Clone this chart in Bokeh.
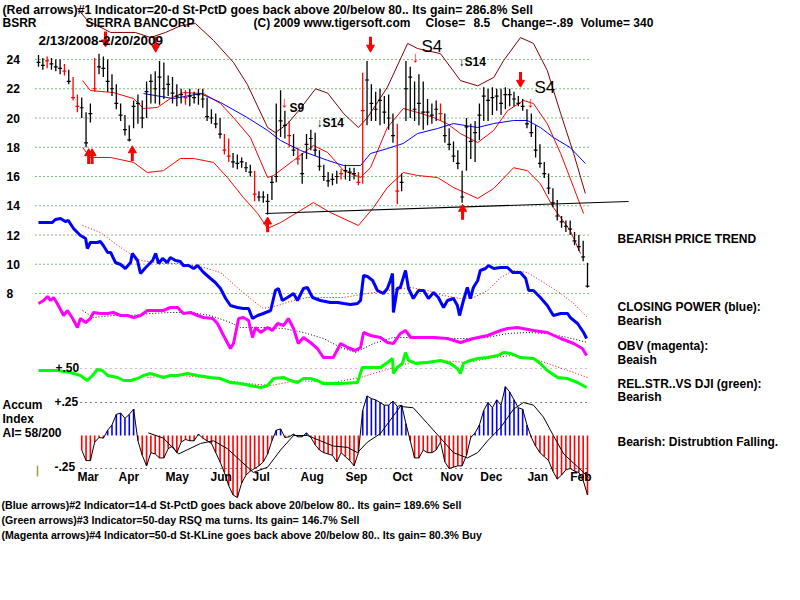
from bokeh.plotting import figure
from bokeh.models import Range1d
from bokeh.core.properties import value
from bokeh.embed import file_html
from bokeh.resources import INLINE

# ---------------- data ----------------
bar_high = [24.3,24.1,24.2,24.1,24.0,24.0,23.7,23.3,22.8,21.6,
            21.4,20.4,21.0,24.1,24.4,24.2,24.0,23.0,22.3,21.0,
            20.2,19.5,21.2,21.6,21.2,22.5,23.0,23.2,23.9,23.8,
            22.9,22.8,22.3,22.0,21.9,22.0,21.8,22.0,22.0,21.4,
            20.6,20.3,20.0,18.9,18.6,17.6,17.5,17.3,17.0,16.8,
            16.4,15.0,15.0,14.8,16.0,21.0,21.9,20.5,19.8,18.9,
            18.0,17.6,18.9,19.2,19.0,17.8,16.8,16.3,16.2,16.4,
            16.5,16.8,16.6,16.6,16.3,23.1,23.9,22.3,21.8,22.0,
            21.5,21.6,20.3,19.6,16.2,23.9,23.5,22.5,23.0,22.5,
            21.3,21.0,21.2,21.0,20.3,19.3,18.4,17.8,16.4,20.0,
            19.6,19.8,21.0,22.1,22.0,22.1,22.0,22.0,22.1,22.0,
            21.8,21.5,21.3,20.6,20.3,19.5,18.2,17.0,16.2,15.2,
            14.4,13.3,13.0,13.0,12.2,12.0,11.6,10.1]
bar_low = [23.5,23.3,23.4,23.3,23.2,23.0,22.9,22.3,21.2,20.4,
           20.0,18.0,19.7,21.8,23.0,22.8,21.8,21.5,20.6,19.8,
           18.8,18.4,19.3,19.6,19.3,20.0,21.0,21.0,20.9,21.3,
           21.5,21.0,20.8,21.0,20.9,20.8,21.0,20.9,20.7,19.8,
           19.6,19.3,18.6,17.5,17.0,16.6,16.5,16.6,16.3,16.0,
           14.3,14.3,14.2,13.4,14.4,15.6,18.7,18.6,18.0,17.4,
           16.8,15.5,17.2,17.8,17.4,16.4,15.7,15.3,15.4,15.5,
           15.8,15.8,15.7,15.8,15.4,15.5,19.5,19.8,19.8,19.5,
           19.6,19.2,18.3,14.1,15.0,19.8,20.0,19.8,19.5,19.2,
           19.5,19.6,19.8,19.8,18.3,17.8,17.0,16.5,14.2,16.4,
           17.2,17.0,18.5,19.8,19.8,20.2,20.5,20.2,20.6,20.8,
           20.8,20.8,20.5,19.3,18.7,17.3,16.6,15.9,14.8,13.9,
           13.0,12.5,12.2,12.0,11.3,10.9,10.2,8.4]
bar_close = [23.8,23.6,23.9,23.7,23.5,23.4,23.2,22.5,21.4,20.8,
             20.7,18.3,20.3,22.0,23.5,23.4,22.5,22.0,21.0,20.2,
             19.2,18.5,20.8,21.0,20.0,21.8,22.5,22.0,22.8,22.0,
             22.3,21.7,21.5,21.6,21.4,21.5,21.4,21.6,21.3,20.1,
             20.0,19.6,18.9,17.8,17.4,17.0,16.9,17.0,16.6,16.3,
             14.8,14.6,14.6,14.3,15.6,16.0,19.8,19.5,18.8,17.8,
             17.2,16.2,18.2,18.6,17.8,16.7,16.0,15.7,15.8,16.0,
             16.2,16.4,16.3,16.2,15.6,20.5,22.6,21.0,20.6,21.2,
             20.4,20.0,18.8,15.0,15.6,22.0,22.8,20.6,21.0,20.4,
             20.4,20.2,20.6,20.3,18.8,18.2,17.4,16.9,14.6,19.4,
             18.4,19.0,20.2,21.5,21.2,21.4,21.5,21.0,21.6,21.6,
             21.3,21.0,20.8,19.6,19.0,17.8,16.9,16.2,15.2,14.2,
             13.3,12.9,12.6,12.4,11.6,11.2,10.5,8.5]
red_bars = [2, 6, 8, 9, 13, 34, 43, 44, 50, 58, 60, 70, 74, 75, 83, 93]

outer_idx = [9.0,11.3,16.7,22.4,25.9,29.4,32.8,36.3,40.5,45.1,48.3,53.0,54.8,57.6,60.6,64.1,66.9,
             70.6,74.0,76.1,80.7,85.4,87.7,93.0,97.6,101.6,105.3,107.6,111.5,114.5,117.7,120.8,123.8,126.5]
outer_val = [27.5,26.67,25.85,25.85,25.5,25.85,26.3,26.46,25.3,23.8,22.3,19.35,19.0,19.6,20.65,22.0,21.7,
             20.3,19.35,20.03,22.1,25.1,24.75,24.4,22.56,22.2,22.77,23.93,25.5,25.1,23.25,20.3,17.57,14.84]
upper_idx = [10.2,12.0,17.3,22.0,24.3,27.5,30.5,33.5,38.2,42.1,45.1,49.0,53.0,54.4,59.0,63.6,66.9,70.6,
             74.5,76.8,80.7,84.4,87.7,91.4,94.6,97.6,101.6,105.3,108.5,112.2,114.5,117.7,120.8,123.8,126.1]
upper_val = [22.56,21.88,21.74,21.33,20.65,20.72,21.33,21.74,21.67,20.99,20.03,18.67,15.93,16.07,17.1,18.12,
             17.64,16.4,15.93,16.6,19.35,20.65,20.38,20.03,19.6,18.94,18.32,19.15,20.5,21.2,20.99,19.6,17.57,15.25,13.47]
lower_idx = [10.2,12.0,16.7,22.0,25.2,28.9,32.8,35.9,40.5,43.7,47.4,50.7,53.0,56.0,60.6,63.6,67.5,74.0,
             77.5,80.7,84.4,87.7,92.3,96.0,101.6,105.3,109.9,113.1,116.1,119.1,123.0,125.4]
lower_val = [17.98,17.3,17.3,16.96,16.27,16.4,17.23,17.23,16.96,15.93,14.56,13.47,12.44,12.85,13.67,14.22,
             13.54,12.65,13.88,15.25,16.27,16.07,15.93,15.25,14.5,15.18,16.6,16.4,15.5,13.88,12.3,10.73]
ma_idx = [24.3,31.2,37.5,42.1,48.3,53.0,56.0,60.6,66.9,70.6,74.5,76.8,80.7,84.4,87.7,92.3,96.0,101.6,
          105.3,109.9,113.1,116.1,119.1,123.0,126.5]
ma_val = [21.67,21.33,21.67,21.06,20.03,19.15,18.46,17.78,17.1,16.75,16.75,17.57,17.91,18.26,18.94,19.28,
          19.62,19.35,19.62,19.83,19.83,19.35,18.67,17.98,16.89]
support_idx = [52.5, 136.5]
support_val = [13.47, 14.29]

sell_idx = [15.5, 27.1, 76.8, 111.5]
sell_tip = [24.96, 24.6, 24.6, 22.2]
buy_idx = [11.6, 12.4, 21.7, 53.0, 98.1]
buy_tip = [17.8, 17.8, 18.0, 13.13, 14.0]

cp_idx = [0,3.2,3.9,5.1,6.2,6.9,8.1,9.7,10.9,11.3,12.0,13.6,14.3,15.0,16.0,16.7,17.8,19.0,20.1,21.3,
          21.7,22.9,23.6,24.8,26.4,27.1,27.8,28.7,29.8,30.5,31.7,32.8,33.5,34.7,35.9,36.8,38.2,39.8,40.9,42.1,
          43.3,44.4,46.0,47.4,48.6,49.5,50.7,52.0,53.7,54.8,55.5,56.4,57.6,59.0,59.9,61.3,62.2,63.4,65.2,67.5,
          69.2,70.6,72.2,73.8,74.5,75.2,76.1,77.3,78.4,79.8,80.7,81.4,81.9,82.1,83.0,83.7,84.9,85.6,86.7,87.9,
          89.1,90.2,91.4,92.5,93.7,94.6,96.0,96.9,97.4,98.3,99.2,99.9,100.6,101.6,102.2,103.4,104.1,105.3,106.9,108.5,
          109.7,111.5,112.7,113.4,114.5,116.1,117.7,119.1,120.8,122.4,123.0,124.7,126.1,126.8]
cp_val = [98,98,101,102,99,100,92,85,82,72,78,78,79,75,68,68,58,56,52,58,
          67,60,47,53,60,67,57,62,58,63,60,59,55,55,52,55,48,42,38,32,
          22,15,13,12,12,2,5,7,10,30,32,20,23,27,20,32,33,23,20,18,
          18,17,16,17,20,45,44,40,30,27,32,40,47,8,32,33,50,32,22,30,
          30,22,28,23,13,20,22,15,5,20,33,22,33,40,50,52,55,52,53,53,
          48,48,42,30,30,23,15,5,7,7,3,-3,-12,-18]
cpma_idx = [10.2,14.3,19.0,23.6,28.9,32.8,38.2,42.1,46.0,49.0,52.0,55.3,59.0,62.2,65.2,70.6,76.1,80.7,86.1,
            90.0,93.7,97.6,100.6,103.9,106.9,109.9,113.1,116.1,120.8,123.8,127.0]
cpma_val = [95,88,73,60,57,57,53,48,33,22,12,15,20,23,23,23,27,30,33,30,25,22,23,30,43,50,48,40,27,17,3]

obv_idx = [0,1.2,2.1,2.8,3.5,4.6,5.8,6.7,7.9,9.0,9.7,10.9,12.0,12.7,14.3,16.0,17.3,19.0,20.6,22.0,
           23.6,25.2,26.6,28.9,30.5,32.2,33.5,35.2,36.8,38.2,40.3,41.4,42.8,44.4,45.1,46.3,47.4,48.6,49.5,50.2,
           51.4,53.0,54.1,55.3,56.7,57.8,59.0,60.1,61.3,62.9,64.5,65.9,68.2,69.9,71.5,73.3,74.5,75.2,76.8,79.1,
           80.7,82.1,83.7,84.9,86.1,88.4,91.4,94.6,97.6,100.6,103.9,106.9,108.5,110.8,114.5,117.7,120.8,123.8,125.8,126.8]
obv_val = [77,80,84,80,83,75,65,70,62,53,62,58,62,68,67,67,68,65,65,63,
           65,70,70,70,73,73,67,68,65,63,62,57,45,32,37,62,63,60,43,53,
           48,53,50,57,55,62,52,37,43,38,32,23,23,37,33,30,33,48,45,43,
           38,37,47,50,43,43,43,42,38,42,45,50,52,53,50,48,42,37,32,25]
obvma_idx = [10.2,12.7,17.3,21.3,25.9,30.5,35.2,39.8,44.4,46.7,52.0,56.7,61.3,65.9,69.9,73.3,77.5,82.1,
             87.7,93.7,99.2,103.9,108.5,113.1,117.7,122.4,127.0]
obvma_val = [70,63,65,65,67,68,68,65,58,53,53,52,48,42,33,28,37,43,43,42,42,43,47,48,47,43,38]

rs_idx = [0,4.4,7.4,9.7,11.3,12.5,13.6,14.8,16.0,18.3,19.7,21.3,22.9,24.3,25.9,27.5,28.9,30.5,32.2,34.5,
          36.8,39.8,42.1,44.4,46.7,49.0,51.4,53.0,54.4,56.7,58.3,59.9,61.3,62.9,64.5,65.9,67.5,69.9,73.8,74.9,
          76.8,79.1,80.7,81.9,82.1,83.0,84.2,84.9,85.6,87.2,90.0,93.0,95.3,96.9,97.6,98.3,99.9,101.6,103.9,106.2,
          107.6,109.2,111.5,114.5,116.1,117.7,120.1,122.4,124.7,126.8]
rs_val = [.485,.485,.47,.447,.409,.447,.492,.485,.447,.432,.409,.409,.424,.447,.462,.447,.432,.447,.447,.462,
          .447,.432,.424,.394,.386,.371,.356,.371,.424,.432,.409,.394,.424,.424,.409,.386,.386,.386,.394,.508,
          .508,.508,.545,.576,.462,.508,.538,.621,.561,.538,.545,.561,.538,.5,.462,.538,.561,.576,.583,.598,
          .621,.614,.583,.576,.538,.485,.432,.424,.394,.356]
rsma_idx = [25.2,32.8,40.5,48.3,53.7,59.9,68.2,74.5,79.8,86.1,93.0,99.2,105.3,109.2,114.5,119.1,123.8,127.0]
rsma_val = [.432,.447,.424,.386,.371,.409,.394,.432,.485,.545,.561,.545,.583,.598,.576,.523,.47,.432]

ai_start = 10
ai_val = [-0.11,-0.19,-0.19,-0.05,-0.015,-0.02,0.04,0.08,0.16,0.17,
          0.13,0.16,0.20,-0.04,-0.15,-0.23,-0.13,-0.14,-0.17,-0.17,
          -0.10,-0.08,-0.13,-0.05,-0.03,-0.04,-0.04,0.01,-0.02,-0.04,
          -0.06,-0.13,-0.20,-0.28,-0.38,-0.45,-0.47,-0.36,-0.30,-0.27,
          -0.25,-0.23,-0.20,-0.14,-0.04,0.04,0.05,-0.015,-0.01,0.01,
          -0.01,-0.01,0.02,-0.015,-0.07,-0.11,-0.13,-0.14,-0.15,-0.20,
          -0.13,-0.16,-0.19,-0.23,-0.13,0.19,0.30,0.28,0.27,0.25,
          0.23,0.23,0.26,0.22,0.23,0.09,-0.04,-0.17,-0.17,-0.11,
          -0.13,-0.13,-0.11,-0.05,-0.20,-0.25,-0.24,-0.23,-0.23,-0.15,
          -0.015,0.02,0.08,0.19,0.25,0.21,0.27,0.23,0.37,0.33,
          0.27,0.21,0.20,0.08,-0.015,-0.08,-0.13,-0.16,-0.19,-0.27,
          -0.33,-0.30,-0.26,-0.25,-0.27,-0.28,-0.34,-0.45]
aima_idx = [25.4,28.9,32.4,37.5,40.5,43.7,46.7,49.7,53.0,56.0,59.0,62.2,65.2,68.2,71.5,73.8,76.1,79.1,
            83.7,86.7,90.0,93.0,96.0,99.2,101.6,103.9,106.9,109.9,112.2,114.5,116.8,119.1,121.5,123.8,126.1,127.2]
aima_val = [0.02,-0.02,-0.14,-0.06,-0.04,-0.10,-0.19,-0.28,-0.24,-0.11,0.0,0.0,-0.04,-0.08,-0.09,-0.13,
            -0.05,0.015,0.22,0.21,0.09,-0.02,-0.13,-0.17,-0.13,-0.04,0.06,0.20,0.25,0.23,0.14,0.0,-0.14,-0.21,-0.28,-0.32]

price_ticks = [24, 22, 20, 18, 16, 14, 12, 10, 8]
month_labels = ["Mar", "Apr", "May", "Jun", "Jul", "Aug", "Sep", "Oct", "Nov", "Dec", "Jan", "Feb"]
month_idx = [9.0, 18.5, 29.4, 39.8, 49.5, 60.6, 71.0, 81.9, 93.0, 102.2, 113.1, 123.0]

# ---------------- layout ----------------
W, H = 800, 600
X0, PX_PER_DAY = 38.0, 4.3228


def yrange(v1, y1, v2, y2):
    slope = (v1 - v2) / (y2 - y1)
    return Range1d(start=v1 - slope * (H - y1), end=v1 + slope * y1)


p = figure(width=W, height=H, x_range=Range1d(0, W), y_range=Range1d(H, 0),
           output_backend="svg", toolbar_location=None, min_border=0,
           x_axis_location=None, y_axis_location=None)
p.grid.visible = False
p.outline_line_color = None
p.background_fill_color = "white"
p.border_fill_color = "white"
p.extra_x_ranges = {"day": Range1d(start=-X0 / PX_PER_DAY, end=(W - X0) / PX_PER_DAY)}
p.extra_y_ranges = {
    "price": yrange(24, 59, 8, 293),
    "cp": yrange(0, 320, 100, 220),
    "obv": yrange(0, 380, 100, 280),
    "rs": yrange(0.5, 368, 0.75, 335),
    "ai": yrange(0.0, 435, 0.25, 402),
}
FONT = value("Liberation Sans")


def txt(x, y, s, size="12px", style="bold", color="black", align="left", yr="default", xr="default", font=FONT):
    p.text(x=[x], y=[y], text=[s], text_font=font, text_font_size=size, text_font_style=style,
           text_color=color, text_align=align, text_baseline="middle", x_range_name=xr, y_range_name=yr)


# price grid
gx0 = [35] * len(price_ticks)
gx1 = [590] * len(price_ticks)
p.segment(x0=gx0, y0=price_ticks, x1=gx1, y1=price_ticks, y_range_name="price",
          line_color="#008000", line_dash="1 3", line_width=1)
for t in price_ticks:
    txt(6, t, str(t), size="12px", yr="price")

# AI reference lines
p.segment(x0=[80, 80], y0=[0.25, -0.25], x1=[590, 590], y1=[0.25, -0.25], y_range_name="ai",
          line_color="black", line_dash="1 4", line_width=1)
p.segment(x0=[80], y0=[0.5], x1=[590], y1=[0.5], y_range_name="rs",
          line_color="#a070a0", line_dash="1 4", line_width=1)

# bands
p.line(outer_idx, outer_val, x_range_name="day", y_range_name="price", line_color="#800000", line_width=1)
p.line(upper_idx, upper_val, x_range_name="day", y_range_name="price", line_color="#ff0000", line_width=1)
p.line(lower_idx, lower_val, x_range_name="day", y_range_name="price", line_color="#ff0000", line_width=1)
p.line(ma_idx, ma_val, x_range_name="day", y_range_name="price", line_color="#0000ff", line_width=1)
p.line(support_idx, support_val, x_range_name="day", y_range_name="price", line_color="black", line_width=1.2)

# price bars
n = len(bar_high)
idx = list(range(n))
cols = ["#ff0000" if i in red_bars else "black" for i in idx]
p.segment(x0=idx, y0=bar_low, x1=idx, y1=bar_high, x_range_name="day", y_range_name="price",
          line_color=cols, line_width=1.3)
p.segment(x0=[i - 0.45 for i in idx], y0=bar_close, x1=[i + 0.45 for i in idx], y1=bar_close,
          x_range_name="day", y_range_name="price", line_color=cols, line_width=1.2)

# arrows
p.segment(x0=sell_idx, y0=[t + 0.95 for t in sell_tip], x1=sell_idx, y1=[t + 0.3 for t in sell_tip],
          x_range_name="day", y_range_name="price", line_color="#ff0000", line_width=3)
p.scatter(sell_idx, [t + 0.22 for t in sell_tip], marker="inverted_triangle", size=8,
          x_range_name="day", y_range_name="price", color="#ff0000")
p.segment(x0=buy_idx, y0=[t - 0.95 for t in buy_tip], x1=buy_idx, y1=[t - 0.3 for t in buy_tip],
          x_range_name="day", y_range_name="price", line_color="#ff0000", line_width=3)
p.scatter(buy_idx, [t - 0.22 for t in buy_tip], marker="triangle", size=8,
          x_range_name="day", y_range_name="price", color="#ff0000")

# indicator lines
p.line(cpma_idx, cpma_val, x_range_name="day", y_range_name="cp", line_color="#ff0000", line_dash="1 2", line_width=1)
p.line(cp_idx, cp_val, x_range_name="day", y_range_name="cp", line_color="#0000ff", line_width=3)
p.line(obvma_idx, obvma_val, x_range_name="day", y_range_name="obv", line_color="black", line_dash="1 2", line_width=1)
p.line(obv_idx, obv_val, x_range_name="day", y_range_name="obv", line_color="#ff00ff", line_width=3)
p.line(rsma_idx, rsma_val, x_range_name="day", y_range_name="rs", line_color="#ff0000", line_dash="1 2", line_width=1)
p.line(rs_idx, rs_val, x_range_name="day", y_range_name="rs", line_color="#00ff00", line_width=3)

# accumulation index histogram
ai_x = list(range(ai_start, ai_start + len(ai_val)))
ai_col = ["#0000ff" if v > 0 else "#ff0000" for v in ai_val]
p.segment(x0=ai_x, y0=[0] * len(ai_val), x1=ai_x, y1=ai_val, x_range_name="day", y_range_name="ai",
          line_color=ai_col, line_width=1.6)
p.line(ai_x, ai_val, x_range_name="day", y_range_name="ai", line_color="black", line_width=1)
p.line(aima_idx, aima_val, x_range_name="day", y_range_name="ai", line_color="black", line_width=1)
p.segment(x0=[37], y0=[-0.23], x1=[37], y1=[-0.31], y_range_name="ai", line_color="#a0a040", line_width=1.5)

# month labels
p.text(x=month_idx, y=[476] * len(month_idx), text=month_labels, x_range_name="day",
       text_font=FONT, text_font_size="12px", text_font_style="bold", text_color="black",
       text_align="left", text_baseline="middle")

# header texts
txt(2, 9, "(Red arrows)#1 Indicator=20-d St-PctD goes back above 20/below 80.. Its gain= 286.8% Sell", size="12.3px")
txt(2, 22, "BSRR")
txt(85, 22, "SIERRA BANCORP")
txt(253, 22, "(C) 2009 www.tigersoft.com")
txt(425, 22, "Close=")
txt(473, 22, "8.5")
txt(501, 22, "Change=-.89")
txt(580, 22, "Volume= 340")
txt(38, 40, "2/13/2008-2/20/2009", size="13.5px")

# signal annotations
txt(421, 46, "S4", size="17px", style="normal")
txt(534, 87, "S4", size="17px", style="normal")
txt(289, 107, "S9")
txt(316, 122, "\u2193S14")
txt(458, 61, "\u2193S14")
txt(284, 101, "\u2193", size="15px", style="normal", color="#ff0000", align="center")
txt(415, 56, "\u2193", size="15px", style="normal", color="#ff0000", align="center")
txt(530, 101, "\u2193", size="15px", style="normal", color="#ff0000", align="center")

# right side comments
txt(617, 238, "BEARISH PRICE TREND")
txt(617, 306, "CLOSING POWER (blue):")
txt(617, 320, "Bearish")
txt(617, 345, "OBV (magenta):")
txt(617, 359, "Beaish")
txt(617, 383, "REL.STR..VS DJI (green):")
txt(617, 396, "Bearish")
txt(617, 441, "Bearish: Distrubtion Falling.")

# AI panel labels
txt(2, 404, "Accum")
txt(2, 418, "Index")
txt(2, 432, "AI= 58/200")
txt(54, 401, "+.25")
txt(54, 466, "-.25")
txt(55, 367, "+.50")

# footer
txt(1, 504, "(Blue arrows)#2 Indicator=14-d St-PctD goes back above 20/below 80.. Its gain= 189.6% Sell", size="10.6px")
txt(1, 519, "(Green arrows)#3 Indicator=50-day RSQ ma turns. Its gain= 146.7% Sell", size="10.6px")
txt(1, 534, "(Magenta arrows)#4 Indicator=50-d St-KLine goes back above 20/below 80.. Its gain= 80.3% Buy", size="10.6px")

open("out.html", "w").write(file_html(p, INLINE))
